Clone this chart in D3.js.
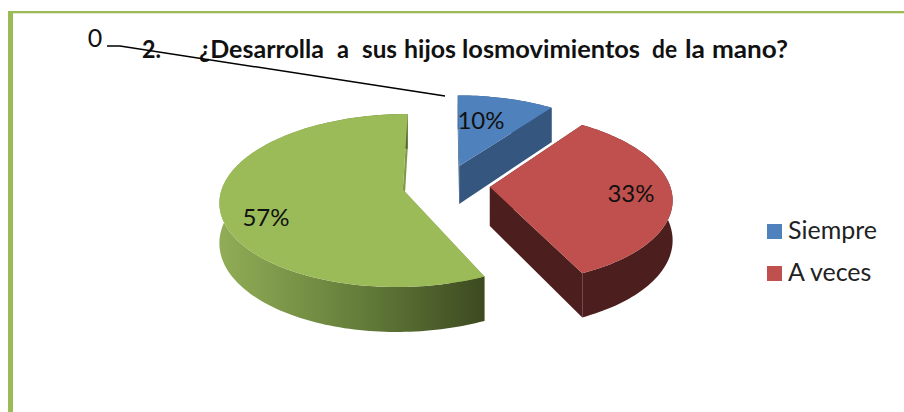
<!DOCTYPE html>
<html><head><meta charset="utf-8">
<script src="https://cdnjs.cloudflare.com/ajax/libs/d3/7.8.5/d3.min.js"></script>
<style>html,body{margin:0;padding:0;background:#fff;overflow:hidden}svg{display:block}text{font-family:Lato,"Open Sans",sans-serif}</style>
</head><body><svg id="c" width="904" height="412"></svg>
<script>
const categories = ["Siempre", "A veces"];
const sliceValues = [10, 33, 57];
const sliceLabels = ["10%", "33%", "57%"];
const topColors = ["#4f81bd", "#c0504d", "#9bbb59"];
const cutColors = ["#35567f", "#4d1e1e", "#7f9a4a"];
const titleWords = ["2.", "¿Desarrolla", "a", "sus", "hijos", "losmovimientos", "de", "la", "mano?"];
const titleX = [142, 199, 337, 362, 404, 462, 652, 685, 712];
const titleW = [19, 125, 12, 35, 52, 178, 25, 20, 76];
const leaderValue = "0";

const svg = d3.select("#c");
const defs = svg.append("defs");
const grad = defs.append("linearGradient").attr("id","gw").attr("gradientUnits","userSpaceOnUse")
  .attr("x1",222).attr("x2",484).attr("y1",0).attr("y2",0);
grad.append("stop").attr("offset",0).attr("stop-color","#91ac56");
grad.append("stop").attr("offset",0.5).attr("stop-color","#66803c");
grad.append("stop").attr("offset",1).attr("stop-color","#3d4a20");

// frame
svg.append("rect").attr("x",8).attr("y",11).attr("width",896).attr("height",2.3).attr("fill","#9bbb59");
svg.append("rect").attr("x",8).attr("y",11).attr("width",5).attr("height",401).attr("fill","#9bbb59");

// perspective projection of the pie plane
const cx=446, cy=185, B=180, A=84, k=-0.126, depth=39, explode=0.244;
const px = (u,v)=>cx+B*u/(1+k*v);
const py = (u,v)=>cy+A*v/(1+k*v);
const dz = (u,v)=>depth/(1+k*v);
const line = d3.line();
const slices = d3.pie().sort(null).value(d=>d)(sliceValues);

function geom(s){
  const mid=(s.startAngle+s.endAngle)/2;
  const ou=explode*Math.sin(mid), ov=-explode*Math.cos(mid);
  const n=Math.ceil((s.endAngle-s.startAngle)*40);
  const rim=d3.range(n+1).map(i=>{
    const a=s.startAngle+(s.endAngle-s.startAngle)*i/n;
    return [ou+Math.sin(a), ov-Math.cos(a)];
  });
  return {apex:[ou,ov],rim};
}
const topPt=p=>[px(p[0],p[1]),py(p[0],p[1])];
const botPt=p=>[px(p[0],p[1]),py(p[0],p[1])+dz(p[0],p[1])];
const g=svg.append("g");
slices.forEach((s,i)=>{
  const {apex,rim}=geom(s);
  const first=rim[0], last=rim[rim.length-1];
  // cut faces
  [first,last].forEach(e=>{
    g.append("path").attr("d",line([topPt(apex),topPt(e),botPt(e),botPt(apex)])+"Z").attr("fill",cutColors[i]);
  });
  // outer wall
  const wall=rim.map(topPt).concat(rim.slice().reverse().map(botPt));
  g.append("path").attr("d",line(wall)+"Z").attr("fill",i===2?"url(#gw)":cutColors[i]);
  // top face
  g.append("path").attr("d",line([topPt(apex)].concat(rim.map(topPt)))+"Z").attr("fill",topColors[i]);
});

// data labels
const labelPos=[[481,129],[631,202],[266,226]];
svg.selectAll("text.d").data(sliceLabels).join("text").attr("class","d")
  .attr("x",(d,i)=>labelPos[i][0]).attr("y",(d,i)=>labelPos[i][1])
  .attr("text-anchor","middle").attr("font-size",24).attr("fill","#111").text(d=>d);

// title
svg.selectAll("text.t").data(titleWords).join("text").attr("class","t")
  .attr("x",(d,i)=>titleX[i]).attr("y",58).attr("font-size",24).attr("font-weight",700)
  .attr("fill","#111").attr("textLength",(d,i)=>titleW[i]).attr("lengthAdjust","spacingAndGlyphs").text(d=>d);

// leader
svg.append("text").attr("x",95).attr("y",47).attr("text-anchor","middle").attr("font-size",25).attr("fill","#111").text(leaderValue);
svg.append("path").attr("d",line([[107,46],[120,46],[445,96]])).attr("fill","none").attr("stroke","#000").attr("stroke-width",1.5);

// legend
const ly=d3.scalePoint().domain(categories).range([231,273]);
categories.forEach((c,i)=>{
  svg.append("rect").attr("x",767).attr("y",ly(c)-7).attr("width",15).attr("height",15).attr("fill",topColors[i]);
  svg.append("text").attr("x",788).attr("y",ly(c)+8).attr("font-size",25).attr("fill","#222").text(c);
});
</script></body></html>
